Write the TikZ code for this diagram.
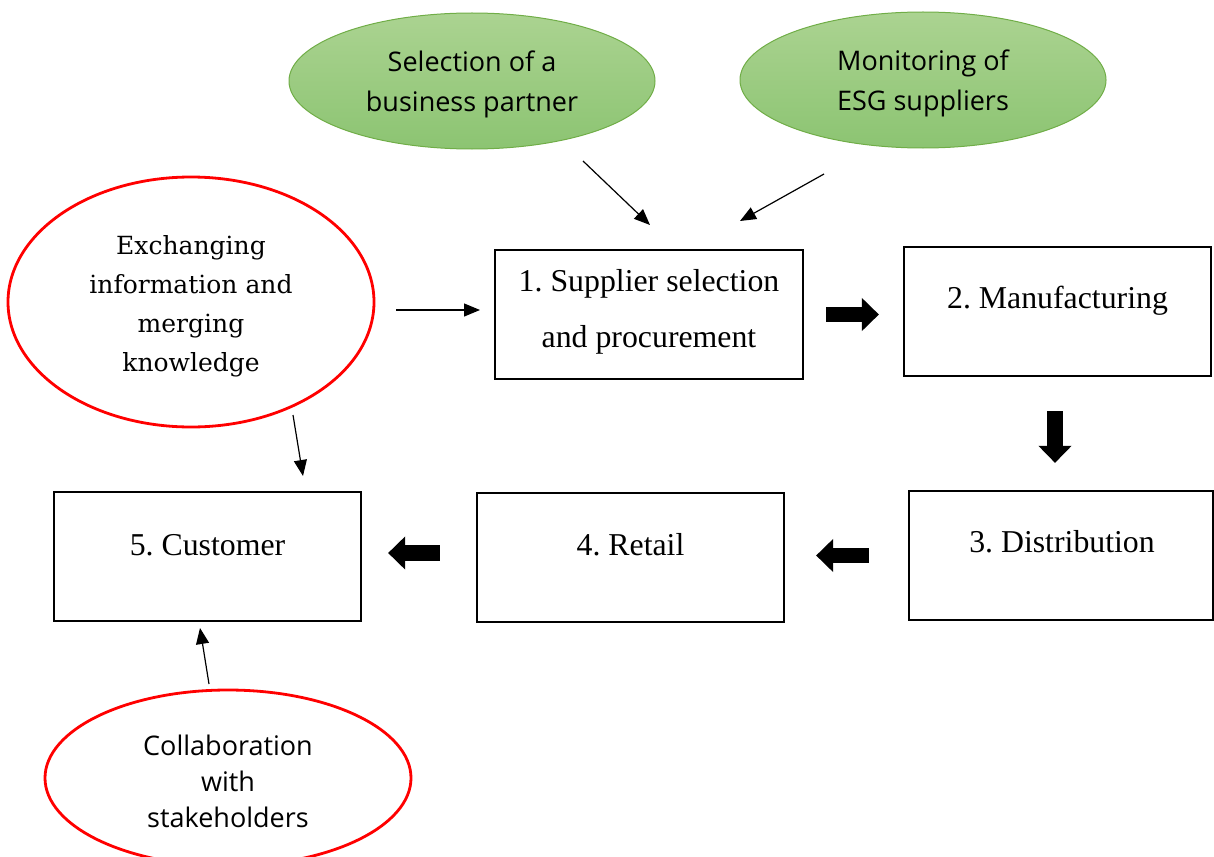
\documentclass[tikz,border=0pt]{standalone}
\usepackage{fontspec}
\setmainfont{Liberation Serif}
\newfontfamily\sansf{Open Sans}
\newfontfamily\seriff{DejaVu Serif}
\usetikzlibrary{shapes.geometric,arrows.meta}
\definecolor{leafedge}{RGB}{112,173,71}
\definecolor{leaftop}{RGB}{171,211,145}
\definecolor{leafbot}{RGB}{140,196,114}
\frenchspacing
\begin{document}
\begin{tikzpicture}[x=1pt,y=-1pt,
  stagebox/.style={draw=black, line width=2.2pt, rectangle, minimum width=#1, minimum height=129pt, inner sep=0pt},
  stagetext/.style={font=\fontsize{31.8}{56}\selectfont, align=center},
  greenell/.style={ellipse, draw=leafedge, line width=1pt, top color=leaftop, bottom color=leafbot,
    minimum width=366pt, minimum height=136pt, inner sep=0pt},
  greentext/.style={font=\sansf\fontsize{27}{40}\selectfont, align=center},
  redell/.style={ellipse, draw=red, line width=2.8pt, inner sep=0pt},
  thin/.style={line width=1.2pt, -{Triangle[length=16pt,width=13pt]}},
  blockarrow/.style={line width=15.5pt, -{Triangle[length=17pt,width=32pt]}}
]
\useasboundingbox (0,0) rectangle (1214,856);

% process stages
\node[stagebox=308pt] (b1) at (649,314.5) {};
\node[stagetext] (t1) at (649,312) {1. Supplier selection\\and procurement};
\node[stagebox=307pt] (b2) at (1057.5,311.5) {};
\node[stagetext] (t2) at (1057.5,301) {2. Manufacturing};
\node[stagebox=304pt] (b3) at (1061,555.5) {};
\node[stagetext] (t3) at (1062,542) {3. Distribution};
\node[stagebox=307pt] (b4) at (630.5,557.5) {};
\node[stagetext] (t4) at (630.5,545) {4. Retail};
\node[stagebox=307pt] (b5) at (207.5,556.5) {};
\node[stagetext] (t5) at (207.5,545) {5. Customer};

% supporting activities
\node[greenell] (sel) at (472,81) {};
\node[greentext] (selt) at (472,84) {Selection of a\\business partner};
\node[greenell] (mon) at (923,80) {};
\node[greentext] (mont) at (923,83) {Monitoring of\\ESG suppliers};
\node[redell, minimum width=366pt, minimum height=250pt] (exch) at (191,302) {};
\node[font=\seriff\fontsize{25}{39}\selectfont, align=center] (excht) at (191,306)
  {Exchanging\\information and\\merging\\knowledge};
\node[redell, minimum width=366pt, minimum height=176pt] (col) at (228,778) {};
\node[font=\sansf\fontsize{27}{36}\selectfont, align=center] (colt) at (228,781)
  {Collaboration\\with\\stakeholders};

% flow between stages
\draw[blockarrow, shorten <=22pt, shorten >=24pt] (b1.east) -- (b2.west |- b1.east);
\draw[blockarrow, shorten <=34pt, shorten >=27pt] ([xshift=-2.5pt]b2.south) -- ([xshift=-2.5pt]b2.south |- b3.north);
\draw[blockarrow, shorten <=39pt, shorten >=31pt] (b3.west) -- (b4.east |- b3.west);
\draw[blockarrow, shorten <=36pt, shorten >=26pt] ([yshift=4.5pt]b4.west) -- ([yshift=4.5pt]b5.east |- b4.west);

% influences
\coordinate (selA) at (583,161);  \coordinate (selB) at (650,225);
\coordinate (monA) at (824,174);  \coordinate (monB) at (740,221);
\coordinate (exA) at (396,310);   \coordinate (exB) at (480,310);
\coordinate (exC) at (293,415);   \coordinate (exD) at (303,476);
\coordinate (colA) at (209,684);  \coordinate (colB) at (200,628);
\draw[thin] (selA) -- (selB);
\draw[thin] (monA) -- (monB);
\draw[thin] (exA) -- (exB);
\draw[thin] (exC) -- (exD);
\draw[thin] (colA) -- (colB);
\end{tikzpicture}
\end{document}
